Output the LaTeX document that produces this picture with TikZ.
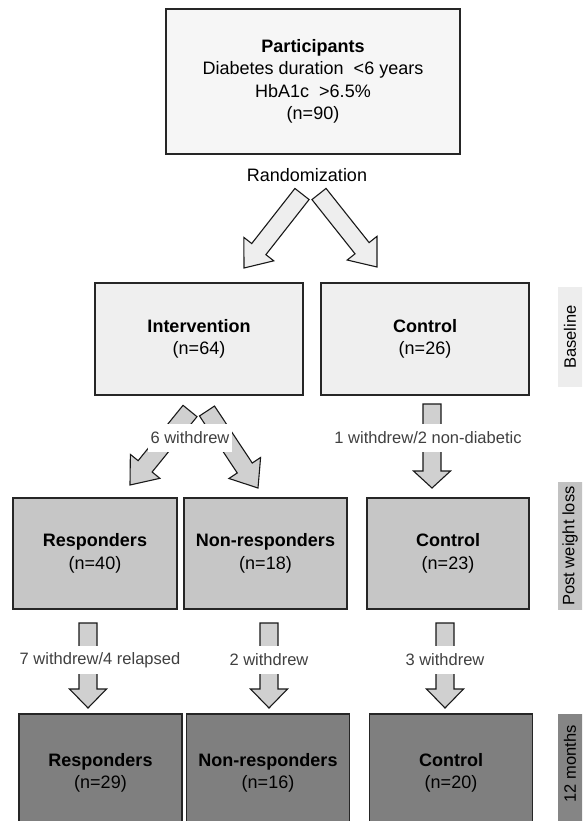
\documentclass[tikz,border=0pt]{standalone}
\usepackage{fontspec}
\setmainfont{Liberation Sans}
\usetikzlibrary{calc}
\definecolor{pfill}{HTML}{F6F6F6}
\definecolor{bfill}{HTML}{EFEFEF}
\definecolor{wfill}{HTML}{C6C6C6}
\definecolor{mfill}{HTML}{7F7F7F}
\definecolor{sbase}{HTML}{EDEDED}
\definecolor{spost}{HTML}{C2C2C2}
\definecolor{smon}{HTML}{858585}
\definecolor{rarr}{HTML}{EEEEEE}
\definecolor{varr}{HTML}{D0D0D0}
\definecolor{wtxt}{HTML}{404040}
\newcommand\blockarrow[6]{%
  \coordinate (ba-n) at ($(#3)!#6!(#2)$);
  \draw[arrowline, fill=#1] ($(#2)!#4!90:(#3)$) -- ($(ba-n)!#4!-90:(#2)$) -- ($(ba-n)!#5!-90:(#2)$) -- (#3) -- ($(ba-n)!#5!90:(#2)$) -- ($(ba-n)!#4!90:(#2)$) -- ($(#2)!#4!-90:(#3)$) -- cycle;
}
\begin{document}
\begin{tikzpicture}[x=1pt,y=-1pt,
  box/.style={draw=black!85, line width=1.2pt, align=center, inner sep=0pt, font=\fontsize{18}{22.5}\selectfont},
  arrowline/.style={draw=black!90, line width=1.1pt, line join=miter},
  wlabel/.style={fill=white, text=wtxt, inner xsep=3pt, minimum height=28pt, font=\fontsize{16.5}{20}\selectfont},
  sidelab/.style={rotate=90, inner sep=0pt, font=\fontsize{16.5}{20}\selectfont}]
\useasboundingbox (0,0) rectangle (582,821);
\clip (0,0) rectangle (582,821);
\fill[white] (0,0) rectangle (582,821);

% boxes
\node[box, fill=pfill, minimum width=294pt, minimum height=145pt] (part) at (313,81.5)
  {\textbf{Participants}\\Diabetes duration \ <6 years\\HbA1c \ >6.5\%\\(n=90)};
\node[font=\fontsize{18}{22}\selectfont] (rand) at (307,175) {Randomization};

\node[box, fill=bfill, minimum width=208pt, minimum height=112pt] (int) at (199,339) {\textbf{Intervention}\\(n=64)};
\node[box, fill=bfill, minimum width=208pt, minimum height=112pt] (con1) at (425,339) {\textbf{Control}\\(n=26)};

\node[box, fill=wfill, minimum width=164pt, minimum height=111pt] (res2) at (95,553.5) {\textbf{Responders}\\(n=40)};
\node[box, fill=wfill, minimum width=163pt, minimum height=111pt] (non2) at (265.5,553.5) {\textbf{Non-responders}\\(n=18)};
\node[box, fill=wfill, minimum width=162pt, minimum height=111pt] (con2) at (448,553.5) {\textbf{Control}\\(n=23)};

\node[box, fill=mfill, minimum width=163pt, minimum height=118pt] (res3) at (100.5,773) {\textbf{Responders}\\(n=29)};
\node[box, fill=mfill, minimum width=163pt, minimum height=118pt] (non3) at (268,773) {\textbf{Non-responders}\\(n=16)};
\node[box, fill=mfill, minimum width=163pt, minimum height=118pt] (con3) at (451,773) {\textbf{Control}\\(n=20)};

% side labels
\fill[sbase] (558,287) rectangle (600,387);
\fill[spost] (558,482) rectangle (600,610);
\fill[smon] (558,714) rectangle (600,830);
\node[sidelab] (sb) at (570,337) {Baseline};
\node[sidelab] (sp) at (570,546) {Post weight loss};
\node[sidelab] (sm) at (570,764) {12 months};

% arrow end points
\coordinate (ra1) at (302,194); \coordinate (rb1) at (244,268);
\coordinate (ra2) at (319,194); \coordinate (rb2) at (377,267);
\coordinate (wa1) at (190,411); \coordinate (wb1) at (130,485);
\coordinate (wa2) at (207,411); \coordinate (wb2) at (258,488);
\coordinate (ca) at (432,404); \coordinate (cb) at (432,488);
\coordinate (r3a) at (88,623); \coordinate (r3b) at (88,708);
\coordinate (n3a) at (269,623); \coordinate (n3b) at (269,708);
\coordinate (c3a) at (445,623); \coordinate (c3b) at (445,708);

\blockarrow{rarr}{ra1}{rb1}{9pt}{19pt}{24pt}
\blockarrow{rarr}{ra2}{rb2}{9pt}{19pt}{24pt}
\blockarrow{varr}{wa1}{wb1}{9pt}{19pt}{24pt}
\blockarrow{varr}{wa2}{wb2}{9pt}{19pt}{24pt}
\blockarrow{varr}{ca}{cb}{9pt}{18.5pt}{17pt}
\blockarrow{varr}{r3a}{r3b}{9pt}{18.5pt}{19pt}
\blockarrow{varr}{n3a}{n3b}{9pt}{18.5pt}{19pt}
\blockarrow{varr}{c3a}{c3b}{9pt}{18.5pt}{19pt}

% withdrawal labels
\node[wlabel] (w6) at (190,438) {6 withdrew};
\node[wlabel, inner xsep=1pt] (w1) at (428,438) {1 withdrew/2 non-diabetic};
\node[wlabel, inner xsep=1pt] (w7) at (100,660) {7 withdrew/4 relapsed};
\node[wlabel] (w2) at (269,660) {2 withdrew};
\node[wlabel] (w3) at (445,660) {3 withdrew};
\end{tikzpicture}
\end{document}
